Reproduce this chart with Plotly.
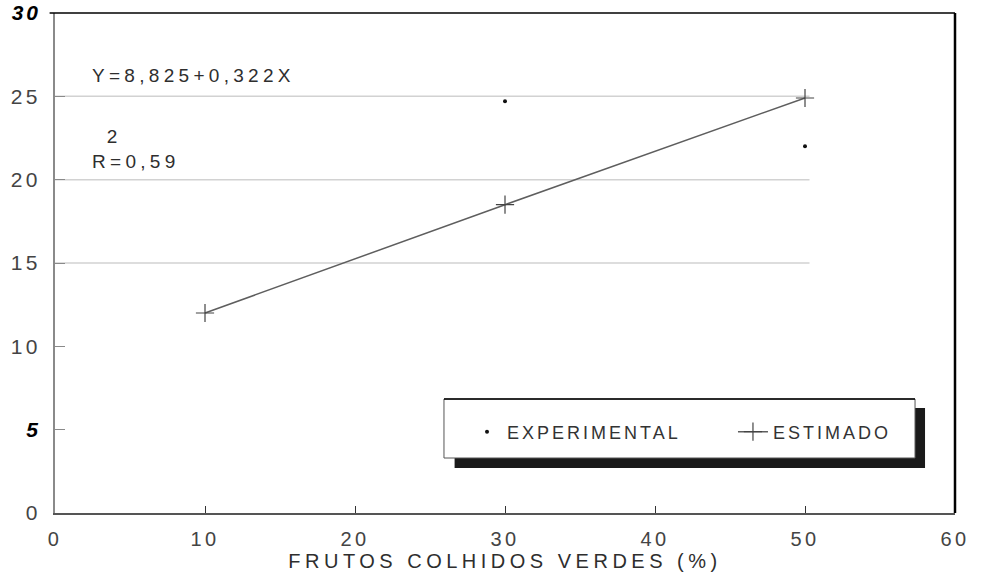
import plotly.graph_objects as go

# ---- data ----
x_experimental = [30, 50]
y_experimental = [24.7, 22.0]
x_estimado = [10, 30, 50]
y_estimado = [12.0, 18.5, 24.9]

x_ticks = [0, 10, 20, 30, 40, 50, 60]
y_ticks = [0, 5, 10, 15, 20, 25, 30]
grid_values = [15, 20, 25]

equation_text = "Y=8,825+0,322X"
r2_text = "R=0,59"
x_title = "FRUTOS COLHIDOS VERDES (%)"
name_exp = "EXPERIMENTAL"
name_est = "ESTIMADO"

FONT = "Liberation Sans, Arial, sans-serif"
TXT = "#2e2e2e"


def spaced(t, ls):
    return f'<span style="letter-spacing:{ls}px">{t}</span>'


def special(t):
    return f'<b><i><span style="color:#000;letter-spacing:3px">{t}</span></i></b>'


y_ticktext = [special(str(v)) if v in (5, 30) else spaced(str(v), 3.5) for v in y_ticks]
x_ticktext = [spaced(str(v), 3.5) for v in x_ticks]

fig = go.Figure()

fig.add_trace(go.Scatter(
    x=x_experimental, y=y_experimental, mode="markers",
    name=spaced(name_exp, 3), legend="legend",
    marker=dict(symbol="circle", size=4, color="#111"),
))
fig.add_trace(go.Scatter(
    x=x_estimado, y=y_estimado, mode="lines+markers",
    name=spaced(name_est, 3), legend="legend2",
    line=dict(color="#5e5e5e", width=1.5),
    marker=dict(symbol="cross-thin", size=13, line=dict(color="#444", width=1.2)),
))

shapes = []
for g in grid_values:
    shapes.append(dict(type="line", xref="x", yref="y", x0=0, x1=50.3, y0=g, y1=g,
                       line=dict(color="#d2d2d2", width=1.5), layer="below"))
# frame: top and right borders
shapes.append(dict(type="line", xref="paper", yref="paper", x0=-0.006, x1=1, y0=1, y1=1,
                   line=dict(color="#000", width=1.5), layer="above"))
shapes.append(dict(type="line", xref="paper", yref="paper", x0=1, x1=1, y0=0, y1=1,
                   line=dict(color="#000", width=2.5), layer="above"))
# legend box with shadow
shapes.append(dict(type="rect", xref="paper", yref="paper", x0=0.444, x1=0.9667, y0=0.09, y1=0.21,
                   fillcolor="#1a1a1a", line=dict(width=0), layer="above"))
shapes.append(dict(type="rect", xref="paper", yref="paper", x0=0.4322, x1=0.9556, y0=0.11, y1=0.228,
                   fillcolor="#ffffff", line=dict(color="#555", width=1), layer="above"))
shapes.append(dict(type="line", xref="paper", yref="paper", x0=0.4322, x1=0.9556, y0=0.228, y1=0.228,
                   line=dict(color="#000", width=1.5), layer="above"))

legend_common = dict(
    orientation="h", yanchor="middle", y=0.162, xanchor="left",
    bgcolor="rgba(0,0,0,0)", borderwidth=0,
    font=dict(family=FONT, size=18, color="#333"),
)

fig.update_layout(
    width=981, height=588,
    margin=dict(l=55, r=26, t=13, b=75, autoexpand=False),
    paper_bgcolor="white", plot_bgcolor="white",
    font=dict(family=FONT, color=TXT),
    showlegend=True,
    legend=dict(legend_common, x=0.4578),
    legend2=dict(legend_common, x=0.7533),
    shapes=shapes,
    annotations=[
        dict(xref="paper", yref="paper", x=0.039, y=0.876, xanchor="left", yanchor="middle",
             text=spaced(equation_text, 4.3), showarrow=False,
             font=dict(family=FONT, size=19, color=TXT)),
        dict(xref="paper", yref="paper", x=0.039, y=0.728, xanchor="left", yanchor="middle",
             text=spaced("\u20072", 4.3) + "<br>" + spaced(r2_text, 4.3), showarrow=False, align="left",
             font=dict(family=FONT, size=19, color=TXT)),
    ],
)

fig.update_xaxes(
    range=[0, 60], tickvals=x_ticks, ticktext=x_ticktext,
    showgrid=False, zeroline=False, automargin=False,
    showline=True, linecolor="#555", linewidth=2,
    ticks="inside", ticklen=7, tickwidth=1, tickcolor="#333",
    tickfont=dict(family=FONT, size=20, color="#444"),
    ticklabelstandoff=7,
    title=dict(text=spaced(x_title, 4.5), standoff=4,
               font=dict(family=FONT, size=20, color=TXT)),
)
fig.update_yaxes(
    range=[0, 30], tickvals=y_ticks, ticktext=y_ticktext,
    showgrid=False, zeroline=False, automargin=False,
    showline=True, linecolor="#8a8a8a", linewidth=1.5,
    ticks="inside", ticklen=10, tickwidth=1.2, tickcolor="#8a8a8a",
    tickfont=dict(family=FONT, size=21, color="#444"),
    ticklabelstandoff=8,
)

fig.write_html("out.html")
